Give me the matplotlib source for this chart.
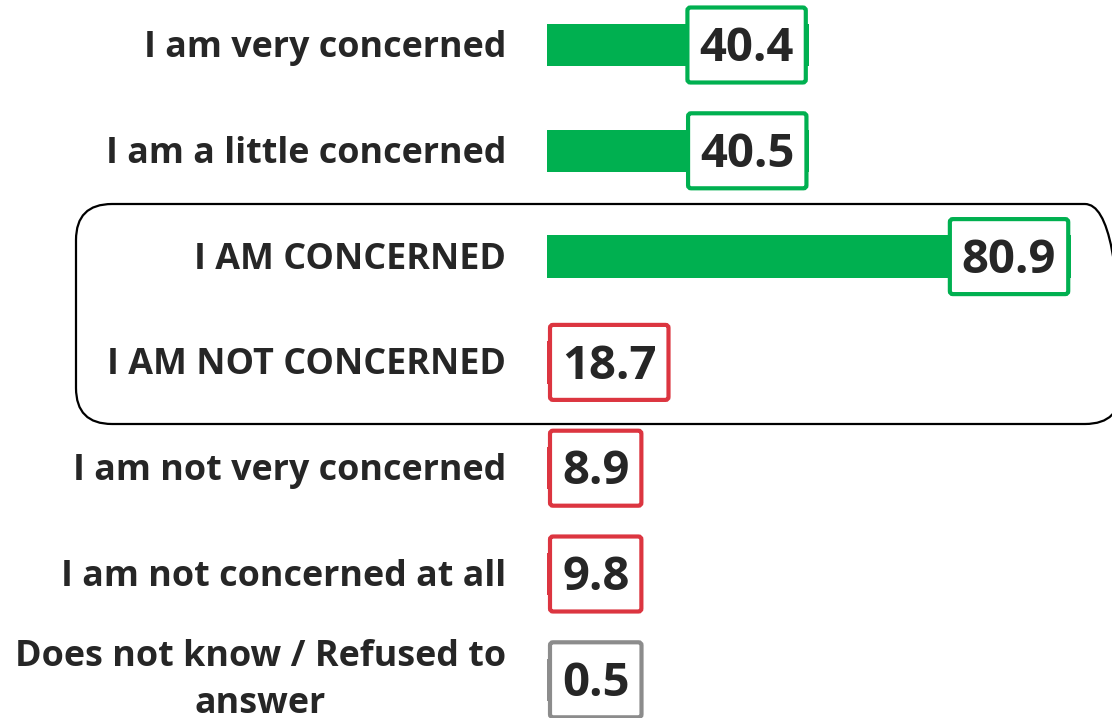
import matplotlib
matplotlib.use("Agg")
import matplotlib.pyplot as plt
from matplotlib.patches import FancyBboxPatch
from matplotlib.transforms import IdentityTransform

categories = ["I am very concerned", "I am a little concerned", "I AM CONCERNED",
              "I AM NOT CONCERNED", "I am not very concerned", "I am not concerned at all",
              "Does not know / Refused to\nanswer"]
values = [40.4, 40.5, 80.9, 18.7, 8.9, 9.8, 0.5]
value_labels = ["40.4", "40.5", "80.9", "18.7", "8.9", "9.8", "0.5"]
colors = ["#00B050", "#00B050", "#00B050", "#DC3540", "#DC3540", "#DC3540", "#8C8C8C"]

W, H, DPI = 1112, 718, 100
plt.rcParams['font.family'] = ['Open Sans', 'DejaVu Sans']
fig = plt.figure(figsize=(W / DPI, H / DPI), dpi=DPI)

x0_px = 547
px_per_unit = 6.48
row0_px = 45
row_step = 105.8
ax = fig.add_axes([x0_px / W, 0, 1 - x0_px / W, 1])
ax.set_xlim(0, (W - x0_px) / px_per_unit)
ax.set_ylim((H - row0_px) / row_step, -row0_px / row_step)
ax.axis('off')

n = len(values)
ax.barh(range(n), values, height=0.40, color=colors, zorder=2)

# category labels
for i, lab in enumerate(categories):
    two_line = "\n" in lab
    ax.annotate(lab, xy=(0, i), xycoords='data', xytext=(-41, -3 if not two_line else -1),
                textcoords='offset pixels',
                ha='right', va='center', ma='center', fontsize=25.8, fontweight='bold',
                color='#262626', linespacing=1.4, annotation_clip=False)

# value labels with boxes
texts = []
for i, (v, s) in enumerate(zip(values, value_labels)):
    t = ax.text(v, i, s, ha='center', va='center', fontsize=34, fontweight='bold',
                color='#262626', zorder=6, clip_on=False)
    texts.append(t)
fig.canvas.draw()
r = fig.canvas.get_renderer()
pad = 12
box_h = 75
for i, (v, t, c) in enumerate(zip(values, texts, colors)):
    bb = t.get_window_extent(r)
    w = bb.width + 2 * pad
    end_px, yc = ax.transData.transform((v, i))
    right = max(end_px - 3, x0_px + 3 + w)
    left = right - w
    patch = FancyBboxPatch((left, yc - box_h / 2), w, box_h,
                           boxstyle="round,pad=0,rounding_size=3",
                           transform=IdentityTransform(), facecolor='white',
                           edgecolor=c, linewidth=3, zorder=4, clip_on=False)
    ax.add_patch(patch)
    cx_data = ax.transData.inverted().transform(((left + right) / 2, yc))[0]
    t.set_x(cx_data)
    t.set_y(i + 0.035)

# highlight frame
frame = FancyBboxPatch((76, H - 424), 1045, 220,
                       boxstyle="round,pad=0,rounding_size=36",
                       transform=IdentityTransform(), facecolor='none',
                       edgecolor='black', linewidth=1.6, zorder=3)
fig.add_artist(frame)

fig.savefig("out.png", dpi=DPI)
